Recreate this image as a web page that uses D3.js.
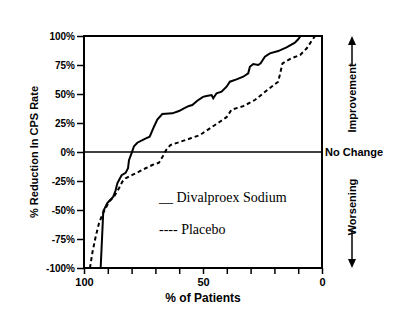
<!DOCTYPE html>
<html>
<head>
<meta charset="utf-8">
<script src="https://cdn.jsdelivr.net/npm/d3@7"></script>
<style>
  html, body { margin: 0; padding: 0; background: #fff; }
  svg { display: block; }
</style>
</head>
<body>
<svg id="chart" width="412" height="326"></svg>
<script>
// ---- data ----
const divalproexPct = [93, 91.9, 90.2, 88.8, 87.7, 86.7, 86, 84.2, 82.5, 81.5, 81.1, 80, 79, 77.6, 74, 72.4, 70.6, 69.2, 67.1, 62.9, 60.1, 58, 55.9, 54.5, 52.4, 50, 48.5, 46.4, 45.7, 44.3, 42.2, 40.1, 38.7, 35.9, 33.1, 31, 30.3, 28.9, 26.8, 25.8, 24, 21.9, 18.4, 14.9, 11.4, 10, 9];
const divalproexVal = [-100, -51, -44, -41, -38.5, -33, -27, -20, -18, -14, -7, -1, 5, 8, 11.8, 13.2, 21.8, 28, 32.7, 33.3, 35.3, 37.6, 39.7, 40.5, 44.2, 47.5, 48.3, 49.1, 46.3, 50.6, 52, 56.3, 60.6, 62.6, 64.9, 67.8, 73.5, 75.9, 75, 76.4, 82.2, 85, 87, 90.2, 94.2, 97.2, 100];
const placeboPct = [97.5, 96.5, 95.1, 93.7, 92.3, 90.9, 89.5, 87.4, 85.3, 83.9, 82.5, 79.7, 76.9, 74.1, 71.3, 68.5, 66.7, 65.5, 63.7, 59.4, 55.2, 51.3, 47.1, 42.9, 40.1, 38, 33.1, 28.2, 24.7, 21.2, 18.4, 16.6, 12.8, 9.2, 6.4, 4.3, 2.9];
const placeboVal = [-100, -87, -73, -61.5, -54, -48.5, -42.8, -38.5, -31.3, -25.6, -22.7, -19.8, -17, -14, -11.2, -9.2, -3, 1.7, 6, 8.9, 11.8, 14.6, 20.4, 26.1, 30, 36.5, 39.5, 44.8, 50.6, 56.3, 60.6, 76.4, 80.8, 83.6, 89.4, 96, 100];
const yTicks = [-100, -75, -50, -25, 0, 25, 50, 75, 100];
const xTicks = [100, 90, 80, 70, 60, 50, 40, 30, 20, 10, 0];
const xTickLabels = [100, 50, 0];
const legendLabels = ["__ Divalproex Sodium", "---- Placebo"];

// ---- layout ----
const svg = d3.select("#chart");
const L = 84, R = 322, T = 36, B = 268;
const x = d3.scaleLinear().domain([100, 0]).range([L, R]);
const y = d3.scaleLinear().domain([-100, 100]).range([B, T]);
const boldFont = "'Liberation Sans Narrow', 'Arial Narrow', 'Liberation Sans', sans-serif";

// axes
const yAxis = d3.axisLeft(y).tickValues(yTicks).tickSize(7).tickPadding(2)
  .tickFormat(d => d + "%");
const gy = svg.append("g").attr("transform", `translate(${L},0)`).call(yAxis);
gy.select(".domain").remove();
gy.selectAll("line").attr("stroke", "#000").attr("stroke-width", 1.5);
gy.selectAll("text").attr("font-family", boldFont).attr("font-weight", "bold")
  .attr("font-size", 10).attr("fill", "#000");

const xAxis = d3.axisBottom(x).tickValues(xTicks).tickSize(6).tickPadding(4)
  .tickFormat(d => xTickLabels.includes(d) ? d : "");
const gx = svg.append("g").attr("transform", `translate(0,${B})`).call(xAxis);
gx.select(".domain").remove();
gx.selectAll("line").attr("stroke", "#000").attr("stroke-width", 1.5);
gx.selectAll("text").attr("font-family", boldFont).attr("font-weight", "bold")
  .attr("font-size", 11).attr("fill", "#000");

// frame
svg.append("rect").attr("x", L).attr("y", T).attr("width", R - L).attr("height", B - T)
  .attr("fill", "none").attr("stroke", "#000").attr("stroke-width", 2);
// zero line
svg.append("line").attr("x1", L).attr("x2", R).attr("y1", y(0)).attr("y2", y(0))
  .attr("stroke", "#000").attr("stroke-width", 1.5);

// lines
const line = d3.line().x(d => x(d[0])).y(d => y(d[1]));
const divData = divalproexPct.map((p, i) => [p, divalproexVal[i]]);
const plaData = placeboPct.map((p, i) => [p, placeboVal[i]]);
svg.append("path").datum(plaData).attr("d", line).attr("fill", "none")
  .attr("stroke", "#000").attr("stroke-width", 2).attr("stroke-dasharray", "4,3");
svg.append("path").datum(divData).attr("d", line).attr("fill", "none")
  .attr("stroke", "#000").attr("stroke-width", 2);

// axis titles
svg.append("text").attr("transform", `translate(38,${y(0)}) rotate(-90)`)
  .attr("text-anchor", "middle").attr("font-family", boldFont).attr("font-weight", "bold")
  .attr("font-size", 11).text("% Reduction In CPS Rate");
svg.append("text").attr("x", (L + R) / 2).attr("y", 302).attr("text-anchor", "middle")
  .attr("font-family", boldFont).attr("font-weight", "bold").attr("font-size", 12)
  .text("% of Patients");

// right annotations
svg.append("text").attr("x", 325).attr("y", y(0) + 4).attr("font-family", boldFont)
  .attr("font-weight", "bold").attr("font-size", 11).text("No Change");
svg.append("text").attr("transform", `translate(356,98) rotate(-90)`).attr("text-anchor", "middle")
  .attr("font-family", boldFont).attr("font-weight", "bold").attr("font-size", 11).text("Improvement");
svg.append("text").attr("transform", `translate(356,207) rotate(-90)`).attr("text-anchor", "middle")
  .attr("font-family", boldFont).attr("font-weight", "bold").attr("font-size", 11).text("Worsening");
// arrows
svg.append("line").attr("x1", 352).attr("x2", 352).attr("y1", 66).attr("y2", 44)
  .attr("stroke", "#000").attr("stroke-width", 1.5);
svg.append("path").attr("d", "M348,45 L352,36 L356,45 Z").attr("fill", "#000");
svg.append("line").attr("x1", 352).attr("x2", 352).attr("y1", 230).attr("y2", 260)
  .attr("stroke", "#000").attr("stroke-width", 1.5);
svg.append("path").attr("d", "M348,259 L352,268 L356,259 Z").attr("fill", "#000");

// legend
legendLabels.forEach((t, i) => {
  svg.append("text").attr("x", 159).attr("y", 202 + i * 32)
    .attr("font-family", "'Liberation Serif', 'Times New Roman', serif")
    .attr("font-size", 14).attr("fill", "#000").text(t);
});
</script>
</body>
</html>
